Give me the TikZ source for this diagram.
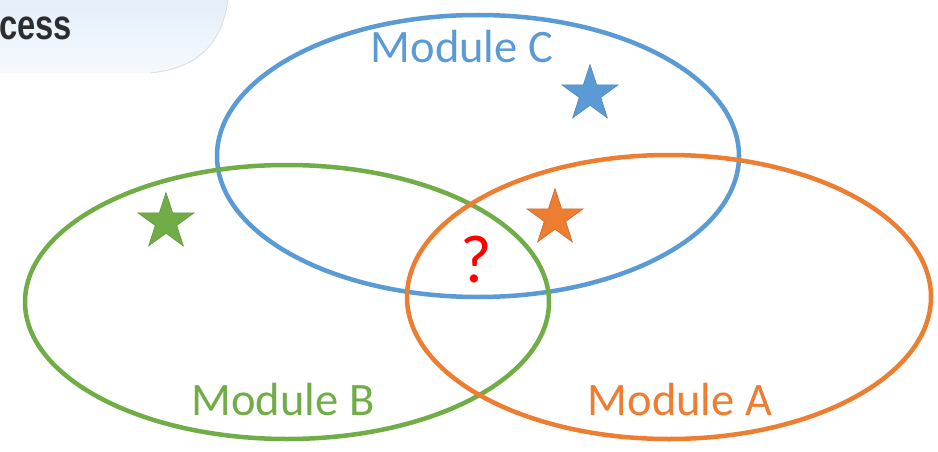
\documentclass[tikz,border=0pt]{standalone}
\usepackage{fontspec}
\setmainfont{Carlito}
\newfontfamily\headfont{Liberation Sans}
\usetikzlibrary{shapes.geometric}
\definecolor{modA}{RGB}{237,125,49}
\definecolor{modB}{RGB}{112,173,71}
\definecolor{modC}{RGB}{91,155,213}
\definecolor{qred}{RGB}{255,0,0}
\definecolor{headtxt}{RGB}{45,45,48}
\definecolor{tabtop}{RGB}{228,239,250}
\definecolor{tabbot}{RGB}{246,249,253}
\definecolor{tabedge}{RGB}{214,220,230}
\tikzset{
  module/.style={line width=4.5pt},
  modlabel/.style={anchor=base, inner sep=0pt, font=\fontsize{46.5}{50}\selectfont},
  mark star/.style={star, star points=5, star point ratio=2.618, minimum size=59pt,
    inner sep=0pt, line width=0.6pt}
}
\begin{document}
\begin{tikzpicture}[x=1pt,y=-1pt]
  \useasboundingbox (0,0) rectangle (938,452);
  \fill[white] (0,0) rectangle (938,452);

  % title tab in the upper left corner
  \shade[top color=tabtop, bottom color=tabbot]
    (0,0) -- (228,0) .. controls (222,42) and (200,68) .. (150,73) -- (0,73) -- cycle;
  \draw[tabedge, line width=0.8pt] (228,0) .. controls (222,42) and (200,68) .. (150,73);
  \node[anchor=base west, inner sep=0pt, text=headtxt, xscale=0.78]
    (title) at (-1,40) {\headfont\bfseries\fontsize{42}{44}\selectfont cess};

  % the three modules
  \draw[module, modC] (478,156) ellipse [x radius=261, y radius=141];
  \draw[module, modB] (287,302) ellipse [x radius=262, y radius=137];
  \draw[module, modA] (669,297) ellipse [x radius=262, y radius=142];

  \node[modlabel, text=modC] (labC) at (462,63) {Module C};
  \node[modlabel, text=modB] (labB) at (283,415) {Module B};
  \node[modlabel, text=modA] (labA) at (680,415) {Module A};

  % stars
  \node[mark star, fill=modC, draw=modC!85!black] (starC) at (590,94) {};
  \node[mark star, fill=modB, draw=modB!85!black] (starB) at (166,222) {};
  \node[mark star, fill=modA, draw=modA!85!black] (starA) at (555,218) {};

  % open question in the shared region
  \node[anchor=base, inner sep=0pt, text=qred, font=\fontsize{68}{72}\selectfont]
    (q) at (476,282) {?};
\end{tikzpicture}
\end{document}
